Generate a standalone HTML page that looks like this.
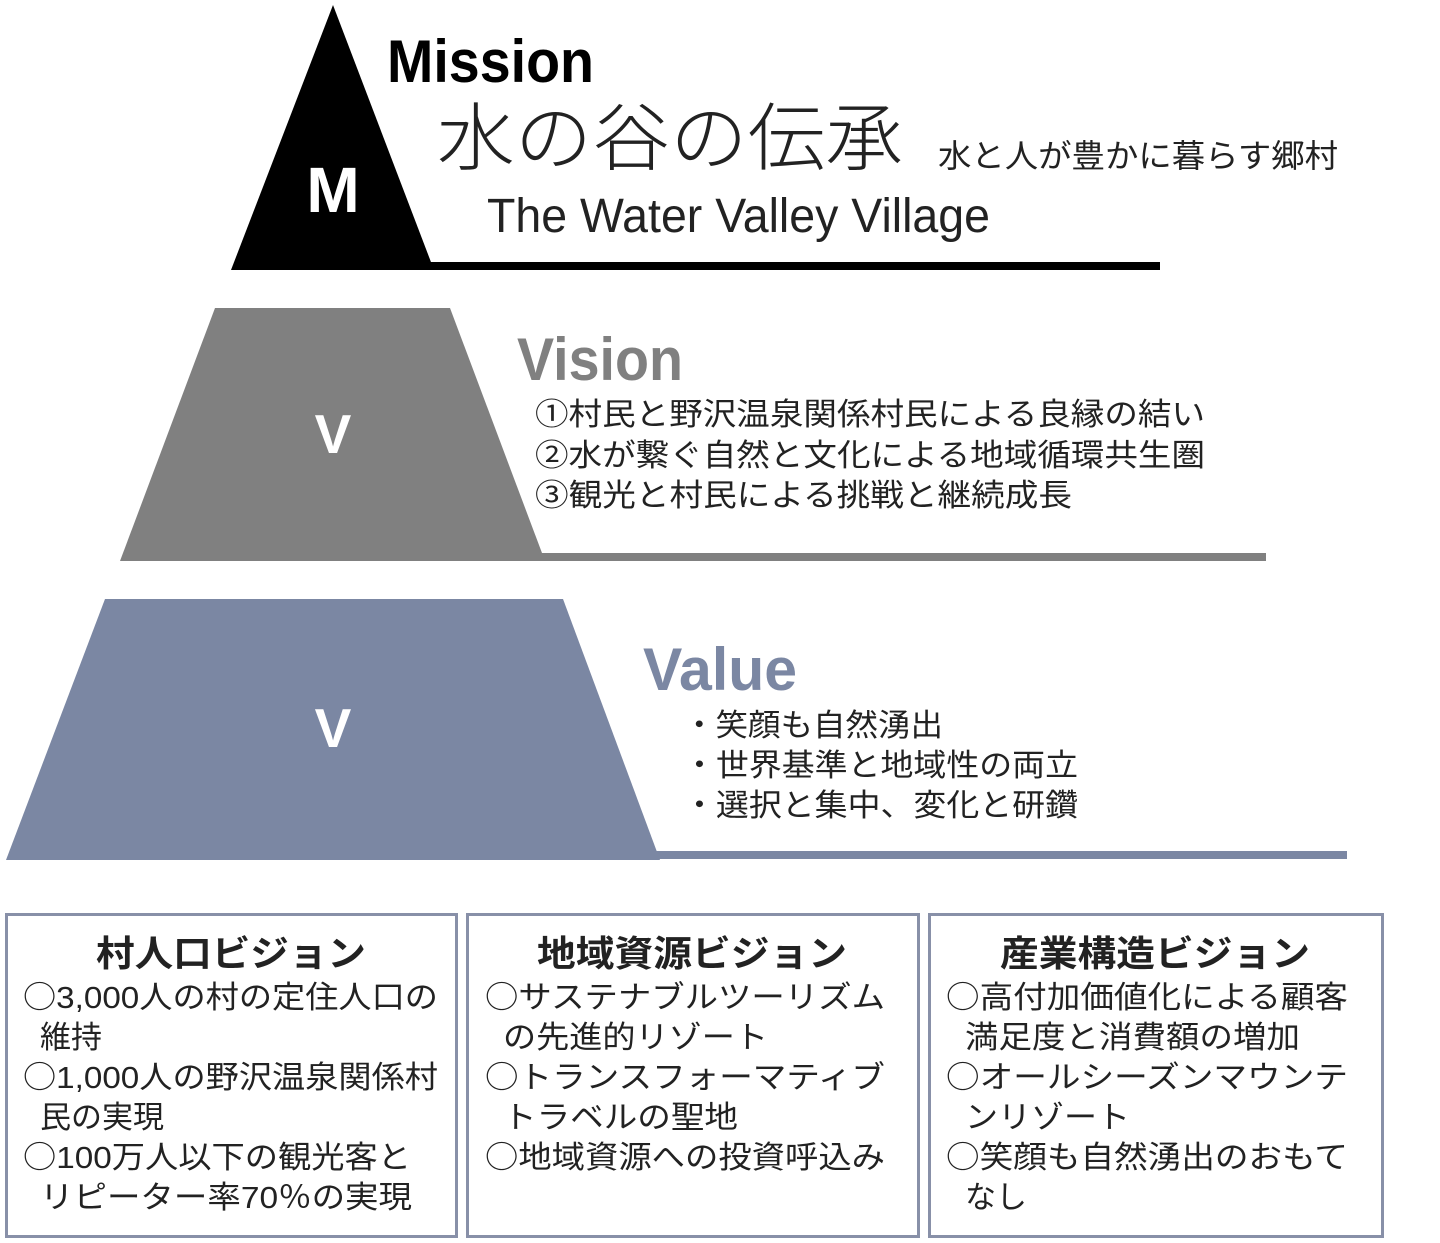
<!DOCTYPE html>
<html><head><meta charset="utf-8"><style>
html,body{margin:0;padding:0;background:#fff;}
svg{display:block;}
text{font-family:"Liberation Sans","Noto Sans CJK JP",sans-serif;}
.b{font-weight:bold;}
.t{fill:#222;font-size:31px;}
.o{font-family:"Noto Sans CJK JP",sans-serif;}
</style></head><body>
<svg width="1440" height="1243" viewBox="0 0 1440 1243">
<polygon points="333,5 231,270 434,270" fill="#000"/>
<rect x="330" y="262" width="830" height="8" fill="#000"/>
<text x="333" y="212" class="b" font-size="64" fill="#fff" text-anchor="middle">M</text>
<text x="387" y="82" class="b" font-size="60" fill="#000" textLength="207" lengthAdjust="spacingAndGlyphs">Mission</text>
<text x="437" y="164" font-size="74" fill="#222" font-weight="300" textLength="466" lengthAdjust="spacingAndGlyphs">水の谷の伝承</text>
<text x="938" y="167" font-size="32" fill="#222" textLength="400" lengthAdjust="spacingAndGlyphs">水と人が豊かに暮らす郷村</text>
<text x="487" y="232" font-size="48" fill="#222" textLength="503" lengthAdjust="spacingAndGlyphs">The Water Valley Village</text>

<polygon points="215,308 450,308 545,561 120,561" fill="#808080"/>
<rect x="540" y="553" width="726" height="8" fill="#808080"/>
<text x="333" y="453" class="b" font-size="55" fill="#fff" text-anchor="middle">V</text>
<text x="517" y="380" class="b" font-size="60" fill="#808080" textLength="166" lengthAdjust="spacingAndGlyphs">Vision</text>
<text x="535" y="425" class="t" textLength="670" lengthAdjust="spacingAndGlyphs">①村民と野沢温泉関係村民による良縁の結い</text>
<text x="535" y="466" class="t" textLength="670" lengthAdjust="spacingAndGlyphs">②水が繋ぐ自然と文化による地域循環共生圏</text>
<text x="535" y="506" class="t" textLength="537" lengthAdjust="spacingAndGlyphs">③観光と村民による挑戦と継続成長</text>

<polygon points="105,599 563,599 660,860 6,860" fill="#7b87a3"/>
<rect x="655" y="851" width="692" height="8" fill="#7b87a3"/>
<text x="333" y="747" class="b" font-size="55" fill="#fff" text-anchor="middle">V</text>
<text x="643" y="690" class="b" font-size="60" fill="#7b87a3" textLength="154" lengthAdjust="spacingAndGlyphs">Value</text>
<text x="683" y="736" class="t" textLength="260" lengthAdjust="spacingAndGlyphs">・笑顔も自然湧出</text>
<text x="683" y="776" class="t" textLength="395" lengthAdjust="spacingAndGlyphs">・世界基準と地域性の両立</text>
<text x="683" y="816" class="t" textLength="395" lengthAdjust="spacingAndGlyphs">・選択と集中、変化と研鑽</text>

<rect x="6.5" y="914.5" width="450" height="322" fill="#fff" stroke="#8890a8" stroke-width="3"/>
<rect x="467.5" y="914.5" width="451" height="322" fill="#fff" stroke="#8890a8" stroke-width="3"/>
<rect x="929.5" y="914.5" width="453" height="322" fill="#fff" stroke="#8890a8" stroke-width="3"/>

<text x="231" y="966" class="b" font-size="36" fill="#222" text-anchor="middle" textLength="270" lengthAdjust="spacingAndGlyphs">村人口ビジョン</text>
<text x="23" y="1008" class="t" textLength="415" lengthAdjust="spacingAndGlyphs"><tspan class="o">○</tspan>3,000人の村の定住人口の</text>
<text x="40" y="1048" class="t">維持</text>
<text x="23" y="1088" class="t" textLength="415" lengthAdjust="spacingAndGlyphs"><tspan class="o">○</tspan>1,000人の野沢温泉関係村</text>
<text x="40" y="1128" class="t">民の実現</text>
<text x="23" y="1168" class="t" textLength="388" lengthAdjust="spacingAndGlyphs"><tspan class="o">○</tspan>100万人以下の観光客と</text>
<text x="40" y="1208" class="t" textLength="372" lengthAdjust="spacingAndGlyphs">リピーター率70％の実現</text>

<text x="692" y="966" class="b" font-size="36" fill="#222" text-anchor="middle" textLength="310" lengthAdjust="spacingAndGlyphs">地域資源ビジョン</text>
<text x="485" y="1008" class="t" textLength="400" lengthAdjust="spacingAndGlyphs"><tspan class="o">○</tspan>サステナブルツーリズム</text>
<text x="503" y="1048" class="t" textLength="265" lengthAdjust="spacingAndGlyphs">の先進的リゾート</text>
<text x="485" y="1088" class="t" textLength="400" lengthAdjust="spacingAndGlyphs"><tspan class="o">○</tspan>トランスフォーマティブ</text>
<text x="503" y="1128" class="t" textLength="235" lengthAdjust="spacingAndGlyphs">トラベルの聖地</text>
<text x="485" y="1168" class="t" textLength="400" lengthAdjust="spacingAndGlyphs"><tspan class="o">○</tspan>地域資源への投資呼込み</text>

<text x="1155" y="966" class="b" font-size="36" fill="#222" text-anchor="middle" textLength="310" lengthAdjust="spacingAndGlyphs">産業構造ビジョン</text>
<text x="946" y="1008" class="t" textLength="402" lengthAdjust="spacingAndGlyphs"><tspan class="o">○</tspan>高付加価値化による顧客</text>
<text x="965" y="1048" class="t" textLength="335" lengthAdjust="spacingAndGlyphs">満足度と消費額の増加</text>
<text x="946" y="1088" class="t" textLength="402" lengthAdjust="spacingAndGlyphs"><tspan class="o">○</tspan>オールシーズンマウンテ</text>
<text x="965" y="1128" class="t" textLength="165" lengthAdjust="spacingAndGlyphs">ンリゾート</text>
<text x="946" y="1168" class="t" textLength="402" lengthAdjust="spacingAndGlyphs"><tspan class="o">○</tspan>笑顔も自然湧出のおもて</text>
<text x="965" y="1208" class="t">なし</text>
</svg>
</body></html>
